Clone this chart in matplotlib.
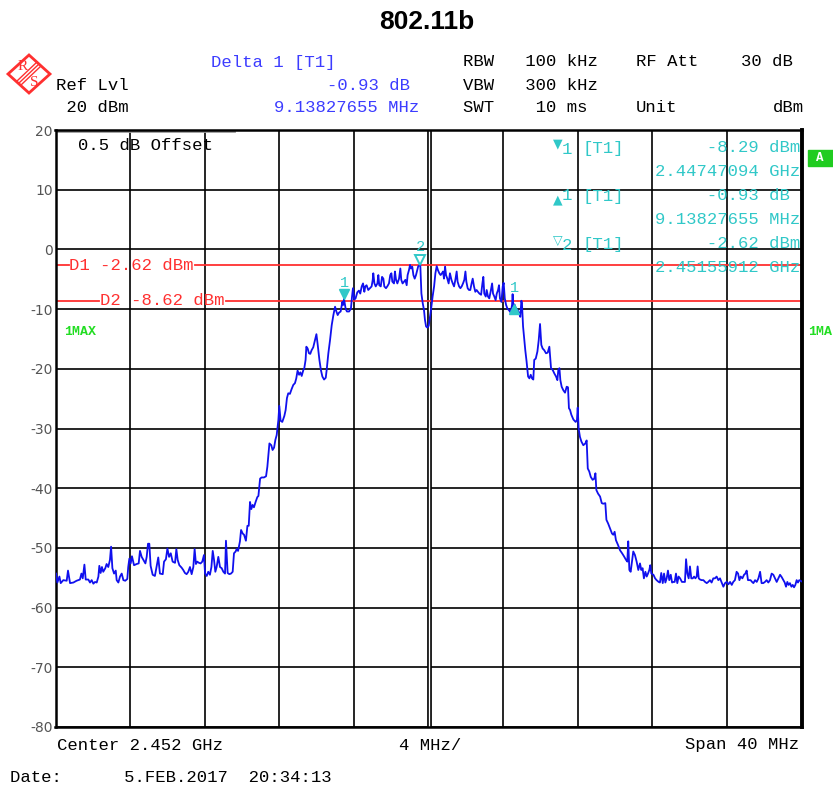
import numpy as np
import matplotlib.pyplot as plt
from matplotlib.patches import Polygon, Rectangle
from matplotlib.lines import Line2D
from matplotlib.transforms import offset_copy

W, H = 833, 787

# trace: (offset from centre in MHz, level in dBm)
floor_left = [
    (-19.97, -54.3), (-19.90, -55.8), (-19.79, -54.8), (-19.72, -55.9), (-19.58, -55.4),
    (-19.40, -55.5), (-19.33, -53.8), (-19.22, -55.9), (-19.04, -55.8), (-18.87, -55.5),
    (-18.69, -55.3), (-18.61, -54.3), (-18.54, -55.1), (-18.45, -52.8), (-18.38, -55.3),
    (-18.24, -55.3), (-18.15, -55.8), (-18.06, -55.4), (-17.97, -56.0), (-17.88, -55.7),
    (-17.79, -55.8), (-17.70, -54.8), (-17.65, -53.0), (-17.58, -54.2), (-17.51, -53.2),
    (-17.44, -54.0), (-17.33, -53.4), (-17.26, -52.7), (-17.17, -53.2), (-17.08, -52.0),
    (-17.02, -49.8), (-16.95, -53.4), (-16.86, -54.3), (-16.77, -53.8), (-16.72, -55.4),
    (-16.63, -55.8), (-16.54, -54.8), (-16.45, -54.3), (-16.36, -55.4), (-16.26, -55.5),
    (-16.15, -55.2), (-16.10, -53.2), (-16.04, -51.8), (-15.97, -52.6), (-15.90, -51.4),
    (-15.79, -52.9), (-15.65, -52.7), (-15.54, -52.6), (-15.47, -50.5), (-15.38, -51.5),
    (-15.29, -52.0), (-15.18, -52.6), (-15.11, -51.5), (-15.04, -49.3), (-14.97, -49.3),
    (-14.90, -53.0), (-14.79, -54.5), (-14.67, -54.7), (-14.58, -53.2), (-14.49, -51.6),
    (-14.40, -54.3), (-14.25, -54.4), (-14.18, -52.3), (-14.08, -51.9), (-14.00, -50.1),
    (-13.91, -51.5), (-13.82, -50.9), (-13.72, -52.3), (-13.59, -52.5), (-13.52, -50.2),
    (-13.45, -52.0), (-13.36, -52.9), (-13.24, -53.3), (-13.15, -53.7), (-13.06, -54.2),
    (-12.97, -54.4), (-12.88, -54.0), (-12.79, -53.2), (-12.70, -54.4), (-12.61, -53.2),
    (-12.54, -50.2), (-12.47, -52.7), (-12.40, -52.3), (-12.31, -52.5), (-12.22, -52.6),
    (-12.13, -52.3), (-12.04, -51.2), (-11.98, -54.3), (-11.89, -54.7), (-11.81, -54.0),
    (-11.72, -54.5), (-11.64, -53.2), (-11.57, -50.5), (-11.50, -52.0), (-11.43, -54.0),
    (-11.36, -53.2), (-11.27, -51.5), (-11.18, -53.2), (-11.09, -53.4), (-11.00, -54.0),
    (-10.91, -54.3), (-10.86, -48.8), (-10.77, -54.2), (-10.68, -54.4), (-10.59, -54.3),
    (-10.50, -54.0),
]
skirt_left = [
    (-10.43, -50.9), (-10.34, -50.6), (-10.29, -50.2), (-10.21, -50.5), (-10.16, -49.7),
    (-10.11, -48.9), (-10.05, -47.0), (-9.96, -47.6), (-9.89, -47.8), (-9.79, -48.8),
    (-9.71, -46.3), (-9.64, -46.3), (-9.57, -42.3), (-9.50, -43.5), (-9.43, -42.8),
    (-9.36, -43.2), (-9.27, -42.3), (-9.18, -41.5), (-9.12, -41.3), (-9.03, -38.4),
    (-8.95, -38.2), (-8.82, -38.2), (-8.71, -38.0), (-8.64, -36.4), (-8.53, -32.5),
    (-8.43, -32.8), (-8.36, -33.6), (-8.28, -33.2), (-8.21, -31.9), (-8.14, -31.1),
    (-8.10, -30.0), (-8.05, -28.6), (-8.00, -26.2), (-7.93, -28.7), (-7.84, -28.9),
    (-7.73, -27.9), (-7.66, -26.9), (-7.59, -24.9), (-7.52, -24.1), (-7.43, -24.2),
    (-7.34, -23.4), (-7.25, -22.7), (-7.16, -22.4), (-7.09, -21.6), (-7.02, -20.3),
    (-6.94, -21.0), (-6.87, -20.6), (-6.80, -21.2), (-6.71, -20.2), (-6.66, -19.9),
    (-6.59, -18.5), (-6.55, -16.3), (-6.48, -16.6), (-6.41, -17.4), (-6.34, -17.5),
    (-6.27, -16.9), (-6.18, -16.4), (-6.09, -15.2), (-6.01, -14.2), (-5.94, -16.0),
    (-5.85, -18.5), (-5.77, -20.2), (-5.69, -21.3), (-5.60, -21.8), (-5.51, -21.5),
    (-5.46, -20.2), (-5.37, -17.4), (-5.28, -15.2), (-5.19, -12.7), (-5.10, -11.0),
    (-5.01, -9.6), (-4.94, -10.4), (-4.87, -11.0), (-4.80, -10.6), (-4.71, -10.4),
    (-4.62, -8.8), (-4.57, -9.3), (-4.53, -8.29), (-4.44, -10.0), (-4.37, -10.4),
    (-4.26, -10.4), (-4.16, -9.9), (-4.10, -7.9), (-4.05, -6.5), (-3.98, -8.4),
    (-3.91, -8.2), (-3.82, -7.2), (-3.73, -6.9), (-3.66, -7.4), (-3.58, -6.2),
    (-3.51, -5.7), (-3.44, -7.1),
]
main_lobe = [
    (-3.39, -6.2), (-3.32, -6.0), (-3.23, -6.8), (-3.14, -6.5), (-3.05, -6.2),
    (-2.99, -5.1), (-2.96, -4.0), (-2.90, -5.7), (-2.83, -6.2), (-2.74, -5.7),
    (-2.69, -4.3), (-2.64, -6.0), (-2.56, -6.2), (-2.49, -4.6), (-2.42, -4.9),
    (-2.37, -6.2), (-2.28, -6.5), (-2.21, -6.2), (-2.12, -5.7), (-2.05, -4.3),
    (-1.99, -4.0), (-1.94, -5.4), (-1.85, -5.7), (-1.80, -3.7), (-1.74, -5.1),
    (-1.67, -5.7), (-1.58, -4.9), (-1.51, -3.2), (-1.46, -5.1), (-1.39, -5.7),
    (-1.31, -5.4), (-1.24, -5.1), (-1.17, -6.0), (-1.12, -4.3), (-1.05, -3.5),
    (-0.99, -2.6), (-0.94, -3.2), (-0.87, -2.9), (-0.81, -4.3), (-0.74, -4.9),
    (-0.67, -4.3), (-0.62, -3.7), (-0.55, -2.8), (-0.44, -2.62), (-0.38, -7.4),
    (-0.31, -9.0), (-0.24, -10.2), (-0.19, -11.8), (-0.13, -12.9), (-0.06, -13.1),
    (0.01, -12.8), (0.08, -11.3), (0.13, -10.2), (0.22, -7.9), (0.30, -6.2),
    (0.37, -4.0), (0.44, -2.8), (0.51, -3.5), (0.58, -4.0), (0.65, -4.3),
    (0.72, -4.0), (0.78, -3.7), (0.83, -4.9), (0.89, -2.9), (0.94, -4.3),
    (1.01, -4.9), (1.08, -5.7), (1.15, -4.0), (1.23, -5.1), (1.30, -5.7),
    (1.37, -6.2), (1.44, -5.1), (1.51, -3.7), (1.56, -5.4), (1.64, -6.2),
    (1.71, -6.5), (1.78, -6.2), (1.85, -5.7), (1.92, -5.1), (1.98, -3.7),
    (2.03, -5.4), (2.10, -6.5), (2.17, -6.8), (2.24, -6.8), (2.31, -5.7),
    (2.37, -4.9), (2.44, -6.2), (2.51, -7.1), (2.58, -6.8), (2.65, -7.1),
    (2.73, -7.4), (2.82, -7.6), (2.89, -5.7), (2.94, -4.6), (2.99, -7.4),
    (3.07, -7.9), (3.12, -6.8), (3.19, -7.9), (3.26, -8.2), (3.33, -7.1),
    (3.41, -5.7), (3.46, -7.4), (3.53, -7.9), (3.60, -8.5), (3.66, -7.4),
    (3.73, -6.8), (3.78, -6.0), (3.83, -8.2), (3.91, -8.8), (3.98, -6.2),
    (4.03, -5.6), (4.09, -8.2), (4.16, -9.3), (4.23, -9.9), (4.32, -10.2),
    (4.41, -10.6), (4.48, -9.3), (4.51, -7.5), (4.55, -9.6), (4.61, -9.22),
    (4.69, -9.9), (4.78, -10.2), (4.85, -10.6), (4.92, -11.3), (4.98, -8.6),
    (5.01, -9.0), (5.07, -12.9), (5.12, -14.6),
]
skirt_right = [
    (5.19, -16.9), (5.26, -18.8), (5.34, -21.3), (5.41, -21.6), (5.48, -21.0),
    (5.55, -21.6), (5.62, -21.8), (5.67, -18.5), (5.75, -18.3), (5.84, -17.1),
    (5.91, -15.2), (5.98, -12.5), (6.05, -16.0), (6.12, -16.6), (6.21, -16.9),
    (6.30, -17.4), (6.39, -17.3), (6.48, -16.3), (6.52, -18.0), (6.57, -19.9),
    (6.66, -20.2), (6.75, -20.8), (6.84, -21.3), (6.91, -21.9), (6.96, -20.2),
    (7.02, -19.9), (7.07, -21.9), (7.14, -23.0), (7.23, -23.6), (7.32, -24.0),
    (7.41, -23.0), (7.48, -23.1), (7.53, -26.6), (7.59, -26.9), (7.66, -27.7),
    (7.77, -28.5), (7.89, -28.9), (7.96, -28.6), (8.00, -26.5), (8.05, -30.0),
    (8.12, -31.4), (8.20, -32.2), (8.30, -32.8), (8.41, -32.5), (8.48, -32.0),
    (8.54, -36.7), (8.62, -37.2), (8.70, -38.1), (8.80, -38.6), (8.89, -38.4),
    (8.95, -37.5), (9.00, -40.3), (9.09, -40.9), (9.20, -41.4), (9.29, -42.5),
    (9.37, -42.6), (9.48, -42.5), (9.54, -45.3), (9.63, -45.9), (9.73, -46.7),
    (9.84, -47.6), (9.91, -47.8), (9.98, -47.3), (10.05, -48.7), (10.16, -49.5),
    (10.27, -50.4), (10.38, -50.9), (10.48, -51.4), (10.59, -52.0), (10.66, -52.3),
    (10.71, -48.9), (10.77, -53.7), (10.84, -54.0), (10.91, -52.3), (10.98, -50.6),
    (11.07, -51.2), (11.16, -52.3), (11.25, -53.7),
]
floor_right = [
    (11.34, -52.6), (11.41, -53.7), (11.48, -53.4), (11.55, -55.1), (11.63, -54.0),
    (11.70, -54.8), (11.77, -54.3), (11.84, -53.7), (11.89, -52.9), (11.95, -54.3),
    (12.06, -54.5), (12.15, -55.1), (12.23, -55.4), (12.34, -55.7), (12.41, -55.8),
    (12.48, -54.2), (12.56, -55.9), (12.63, -54.3), (12.70, -55.8), (12.77, -55.1),
    (12.84, -53.8), (12.91, -55.4), (12.99, -54.5), (13.06, -55.8), (13.13, -55.7),
    (13.20, -55.7), (13.27, -54.3), (13.34, -55.9), (13.41, -54.8), (13.49, -55.1),
    (13.59, -55.7), (13.66, -55.7), (13.75, -55.7), (13.81, -51.9), (13.88, -54.3),
    (13.95, -55.1), (14.02, -53.1), (14.09, -55.1), (14.17, -55.1), (14.24, -54.8),
    (14.31, -55.1), (14.38, -54.8), (14.43, -53.1), (14.49, -55.1), (14.56, -55.3),
    (14.65, -55.4), (14.74, -55.4), (14.83, -55.7), (14.92, -55.9), (15.00, -55.7),
    (15.09, -55.4), (15.18, -55.8), (15.27, -55.1), (15.36, -55.1), (15.45, -54.8),
    (15.54, -55.4), (15.63, -55.1), (15.72, -55.8), (15.81, -56.5), (15.90, -55.9),
    (15.99, -55.7), (16.08, -56.1), (16.17, -55.7), (16.26, -56.2), (16.34, -55.7),
    (16.43, -55.4), (16.52, -54.0), (16.60, -54.3), (16.67, -55.4), (16.74, -54.8),
    (16.83, -55.1), (16.92, -54.5), (16.99, -54.3), (17.06, -53.8), (17.13, -55.4),
    (17.20, -55.4), (17.27, -55.4), (17.35, -55.7), (17.42, -55.9), (17.51, -55.4),
    (17.60, -55.7), (17.69, -55.1), (17.78, -54.0), (17.86, -55.9), (17.95, -55.9),
    (18.04, -55.7), (18.13, -55.4), (18.22, -55.8), (18.31, -55.4), (18.40, -54.3),
    (18.49, -54.5), (18.58, -55.1), (18.67, -55.7), (18.76, -55.1), (18.85, -54.5),
    (18.94, -54.9), (19.03, -55.4), (19.10, -55.8), (19.17, -56.5), (19.24, -55.7),
    (19.31, -56.2), (19.38, -55.9), (19.46, -56.5), (19.53, -56.2), (19.60, -56.6),
    (19.67, -56.2), (19.74, -55.4), (19.81, -55.8), (19.88, -55.4), (20.00, -55.6),
]

center_ghz = 2.452
span_mhz = 40
ref_level = 20
y_ticks = list(range(-80, 21, 10))

display_line_names = ["D1", "D2"]
display_line_levels = [-2.62, -8.62]

# markers: name, offset (MHz), level (dBm)
marker_names = ["1", "2", "1"]
marker_offsets = [-4.53, -0.44, 4.61]
marker_levels = [-8.29, -2.62, -9.22]

MONO = ["Liberation Mono", "DejaVu Sans Mono"]
BLUE = "#3c3cff"
CYAN = "#30c8c8"
RED = "#ff3030"
GREEN = "#22dd22"
TRACE = "#1010ee"

trace = np.array(floor_left + skirt_left + main_lobe + skirt_right + floor_right)

fig = plt.figure(figsize=(W / 100, H / 100), dpi=100)
ax = fig.add_axes([55.5 / W, 1 - 727 / H, 746 / W, 597 / H])


def ft(x, y, s, **kw):
    kw.setdefault("family", MONO)
    kw.setdefault("size", 12.4)
    kw.setdefault("va", "center")
    return fig.text(x / W, 1 - y / H, s, **kw)


half = span_mhz / 2
ax.set_xlim(-half, half)
ax.set_ylim(y_ticks[0], ref_level)
ax.set_xticks(np.arange(-half, half + 0.1, span_mhz / 10))
ax.set_xticklabels([])
ax.set_yticks(y_ticks)
ax.set_yticklabels([str(v) for v in y_ticks], color="#555555", size=10,
                   family="DejaVu Sans")
ax.tick_params(length=0, pad=2)
ax.set_axisbelow(True)
ax.grid(color="black", lw=1.2)
for side in ax.spines:
    ax.spines[side].set_linewidth(1.8)
ax.spines["right"].set_linewidth(2.8)

# double centre line
ax.axvline(0, color="black", lw=3.4, zorder=1)
ax.axvline(0, color="white", lw=1.0, zorder=1.1)
ax.plot([-half, -10.45], [19.75, 19.75], color="#999999", lw=2, zorder=1)

# display lines with their labels breaking the line
label_starts = [-19.25, -17.6]
label_ends = [-12.5, -10.85]
for name, lvl, x0, x1 in zip(display_line_names, display_line_levels, label_starts, label_ends):
    ax.plot([-half, x0 - 0.05], [lvl, lvl], color=RED, lw=1.3, zorder=2)
    ax.plot([x1, half], [lvl, lvl], color=RED, lw=1.3, zorder=2)
    ax.text(x0, lvl, f"{name} {lvl:.2f} dBm", color=RED, family=MONO, size=12.4,
            va="center", ha="left")

ax.plot(trace[:, 0], trace[:, 1], color=TRACE, lw=1.3, zorder=3)

# marker symbols
down = offset_copy(ax.transData, fig=fig, x=0, y=3.4, units="points")
up = offset_copy(ax.transData, fig=fig, x=0, y=-3.6, units="points")
ax.plot(marker_offsets[0], marker_levels[0], "v", ms=7.5, color=CYAN,
        transform=down, zorder=4)
ax.plot(marker_offsets[1], marker_levels[1], "v", ms=7.5, mfc="white", mec=CYAN,
        mew=1.4, transform=down, zorder=4)
ax.plot(marker_offsets[2], marker_levels[2], "^", ms=7.5, color=CYAN,
        transform=up, zorder=4)
for name, f, lvl, dy in zip(marker_names, marker_offsets, marker_levels, [11.5, 13, 11.5]):
    ax.annotate(name, (f, lvl), xytext=(0, dy), textcoords="offset points",
                ha="center", va="center", color=CYAN, family=MONO, size=11)

# title
ft(427, 22, "802.11b", family="Liberation Sans", weight="bold", size=19, ha="center")

# R&S logo
cx, cy = 29, 74
outer = [(cx - 21, cy), (cx, cy - 19), (cx + 21, cy), (cx, cy + 19)]
fig.patches.append(Polygon([(x / W, 1 - y / H) for x, y in outer], closed=True,
                           fill=False, ec=RED, lw=2.0, transform=fig.transFigure))
for d in (-2, 0, 2):
    fig.lines.append(Line2D([(cx - 10 + d) / W, (cx + 10 + d) / W],
                            [1 - (cy + 9 + d) / H, 1 - (cy - 10 + d) / H],
                            color=RED, lw=1.0, transform=fig.transFigure))
ft(23, 67, "R", color=RED, size=11, family="Liberation Serif", ha="center")
ft(34, 82, "S", color=RED, size=11, family="Liberation Serif", ha="center")

# header
ft(56, 85, "Ref Lvl")
ft(56, 108, f" {ref_level} dBm")
ft(211, 62, "Delta 1 [T1]", color=BLUE)
ft(410, 85, "-0.93 dB", color=BLUE, ha="right")
ft(419, 108, "9.13827655 MHz", color=BLUE, ha="right")
ft(463, 62, "RBW   100 kHz")
ft(463, 85, "VBW   300 kHz")
ft(463, 108, "SWT    10 ms")
ft(636, 62, "RF Att")
ft(793, 62, "30 dB", ha="right")
ft(636, 108, "Unit")
ft(804, 108, "dBm", ha="right")

# marker readout inside the grid
ft(78, 145, "0.5 dB Offset")
ft(553, 144, "\u25bc", color=CYAN, family="DejaVu Sans", size=9)
ft(562, 150, "1", color=CYAN)
ft(583, 148, "[T1]", color=CYAN)
ft(655, 148, "     -8.29 dBm", color=CYAN)
ft(655, 172, "2.44747094 GHz", color=CYAN)
ft(553, 200, "\u25b2", color=CYAN, family="DejaVu Sans", size=9)
ft(562, 196, "1", color=CYAN)
ft(583, 196, "[T1]", color=CYAN)
ft(655, 196, "     -0.93 dB", color=CYAN)
ft(655, 220, "9.13827655 MHz", color=CYAN)
ft(553, 240, "\u25bd", color=CYAN, family="DejaVu Sans", size=9)
ft(562, 246, "2", color=CYAN)
ft(583, 244, "[T1]", color=CYAN)
ft(655, 244, "     -2.62 dBm", color=CYAN)
ft(655, 268, "2.45155912 GHz", color=CYAN)

fig.patches.append(Rectangle((808 / W, 1 - 166 / H), 25 / W, 16 / H, color="#20cc20",
                             transform=fig.transFigure))
ft(820, 158, "A", color="white", weight="bold", size=9, ha="center")
ft(64, 332, "1MAX", color=GREEN, weight="bold", size=9.5)
ft(808, 332, "1MA", color=GREEN, weight="bold", size=9.5)

# footer
ft(57, 745, f"Center {center_ghz} GHz")
ft(430, 745, f"{span_mhz // 10} MHz/", ha="center")
ft(799, 745, f"Span {span_mhz} MHz", ha="right")
ft(10, 778, "Date:      5.FEB.2017  20:34:13")

fig.savefig("out.png", dpi=100)
